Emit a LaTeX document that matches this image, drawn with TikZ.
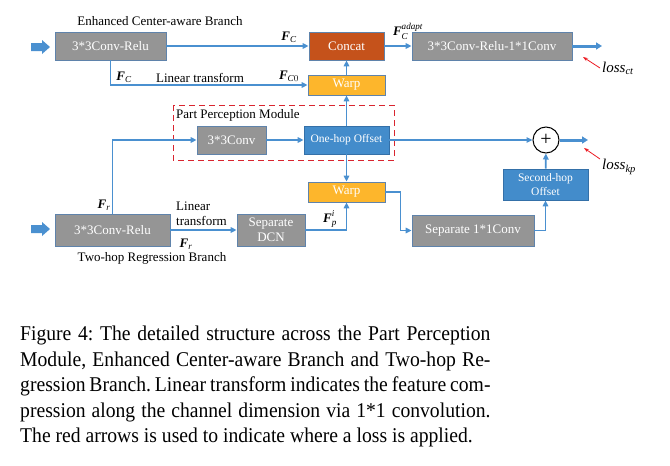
\documentclass[tikz,border=0pt]{standalone}
\usepackage{amsmath}
\usepackage{graphicx}
\usepackage{fontspec}
\setmainfont{Liberation Serif}
\usetikzlibrary{arrows.meta}
\definecolor{graybox}{HTML}{959595}
\definecolor{boxborder}{HTML}{5F83AB}
\definecolor{concatc}{HTML}{C5521B}
\definecolor{warpc}{HTML}{FDB62C}
\definecolor{bluebox}{HTML}{438CCB}
\definecolor{blueborder}{HTML}{3470A8}
\definecolor{arrowblue}{HTML}{4A90D0}
\definecolor{dashred}{HTML}{D9252F}
\definecolor{lossred}{HTML}{EC1C24}
\newcommand\bF{\text{\bfseries\itshape F}}
\newcommand\itx[1]{\text{\itshape #1}}
\begin{document}
\begin{tikzpicture}[x=1pt,y=-1pt,
  box/.style={draw=boxborder, line width=0.8pt, fill=graybox, text=white, inner sep=0pt,
    align=center, font=\fontsize{13}{15}\selectfont},
  bbox/.style={box, fill=bluebox, draw=blueborder, font=\fontsize{11.5}{14}\selectfont},
  wbox/.style={box, fill=warpc, draw=boxborder},
  cbox/.style={box, fill=concatc, draw=boxborder},
  arr/.style={draw=arrowblue, line width=1.7pt, -{Triangle[length=6pt,width=5.5pt]}},
  outarr/.style={draw=arrowblue, line width=3pt, -{Triangle[length=6pt,width=7pt]}},
  redarr/.style={draw=lossred, line width=0.8pt, -{Stealth[length=5pt,width=3.5pt]}},
  lbl/.style={inner sep=0pt, font=\fontsize{13}{15}\selectfont},
  flbl/.style={inner sep=0pt, font=\fontsize{13}{15}\selectfont},
  losslbl/.style={inner sep=0pt, anchor=west, font=\fontsize{15}{17}\selectfont\itshape},
  inarrow/.style={fill=arrowblue}
]
\useasboundingbox (0,0) rectangle (670,466);

% input block arrows
\fill[inarrow] (31,43) -- (42,43) -- (42,40) -- (50,47) -- (42,54) -- (42,51) -- (31,51) -- cycle;
\fill[inarrow] (31,225) -- (42,225) -- (42,222) -- (50,229) -- (42,236) -- (42,233) -- (31,233) -- cycle;

% nodes
\node[box, minimum width=111pt, minimum height=28pt] (c1) at (110.5,46) {3*3Conv-Relu};
\node[cbox, minimum width=75pt, minimum height=28pt] (concat) at (346.5,46) {Concat};
\node[box, minimum width=160pt, minimum height=28pt] (head) at (492,46) {3*3Conv-Relu-1*1Conv};
\node[wbox, minimum width=77pt, minimum height=20pt] (warp1) at (346.5,85) {Warp};
\draw[dashred, line width=1pt, dash pattern=on 6pt off 4pt] (173,105) rectangle (394,160);
\node[lbl, anchor=west] (ppm) at (176,115) {Part Perception Module};
\node[box, minimum width=69pt, minimum height=28pt] (conv3) at (231.5,140) {3*3Conv};
\node[bbox, minimum width=85pt, minimum height=28pt] (onehop) at (346.5,140) {One-hop Offset};
\node[circle, draw=black, line width=1pt, fill=white, minimum size=26pt, inner sep=0pt,
  font=\fontsize{20}{20}\selectfont] (plus) at (546,140) {+};
\node[wbox, minimum width=77pt, minimum height=20pt] (warp2) at (346.5,192) {Warp};
\node[box, minimum width=122pt, minimum height=31pt] (sep1) at (473,230.5) {Separate 1*1Conv};
\node[bbox, minimum width=85pt, minimum height=31pt] (second) at (545.5,184.5) {Second-hop\\Offset};
\node[box, minimum width=115pt, minimum height=32pt] (c2) at (112.5,230) {3*3Conv-Relu};
\node[box, minimum width=68pt, minimum height=32pt] (dcn) at (271,230) {Separate\\DCN};

\coordinate (o1) at (602,46);
\coordinate (o2) at (588,140);
\coordinate (r1s) at (600,68);
\coordinate (r1e) at (583,57);
\coordinate (r2s) at (600,159);
\coordinate (r2e) at (584,148);

% connectors
\draw[arr] (c1) -- (concat);
\draw[arr] (c1.south) |- (warp1.west);
\draw[arr] (warp1) -- (concat);
\draw[arr] (concat) -- (head);
\draw[outarr] (head.east) -- (o1);
\draw[redarr] (r1s) -- (r1e);
\draw[arr] (c2.north) |- (conv3.west);
\draw[arr] (conv3) -- (onehop);
\draw[arr] (onehop) -- (warp1);
\draw[arr] (onehop) -- (warp2);
\draw[arr] (onehop) -- (plus);
\draw[outarr] (plus.east) -- (o2);
\draw[redarr] (r2s) -- (r2e);
\draw[arr] (second) -- (plus);
\draw[arr] (c2.east |- dcn.west) -- (dcn.west);
\draw[arr] (dcn.east) -| (warp2.south);
\draw[arr] (warp2.east) -- ++(15,0) |- (sep1.west);
\draw[arr] (sep1.east) -| (second.south);

% labels
\node[lbl] (t1) at (160,21) {Enhanced Center-aware Branch};
\node[flbl] (fc1) at (289,37) {$\bF_{\itx{C}}$};
\node[flbl] (fc2) at (124,77) {$\bF_{\itx{C}}$};
\node[lbl] (lt1) at (200,78) {Linear transform};
\node[flbl] (fc0) at (289,76) {$\bF_{\itx{C}0}$};
\node[flbl] (fca) at (408,31) {$\bF_{\itx{C}}^{\itx{adapt}}$};
\node[losslbl] (lct) at (602,68) {loss\textsubscript{ct}};
\node[losslbl] (lkp) at (602,167) {loss\textsubscript{kp}};
\node[flbl] (fr1) at (104,205) {$\bF_{\itx{r}}$};
\node[lbl, align=left, anchor=west] (lt2) at (176,214) {Linear\\transform};
\node[flbl] (fr2) at (186,244) {$\bF_{\itx{r}}$};
\node[flbl] (fpi) at (330,219) {$\bF_{\itx{p}}^{\itx{i}}$};
\node[lbl] (t2) at (152,258) {Two-hop Regression Branch};

% caption
\node[anchor=north west, inner sep=0pt] (cap) at (20,326) {\scalebox{0.935}[1]{\parbox{503pt}{\fontsize{21}{25.5}\selectfont\frenchspacing
Figure 4: The detailed structure across the Part Perception\linebreak
Module, Enhanced Center-aware Branch and Two-hop Re-\linebreak
gression Branch. Linear transform indicates the feature com-\linebreak
pression along the channel dimension via 1*1 convolution.\linebreak
The red arrows is used to indicate where a loss is applied.}}};
\end{tikzpicture}
\end{document}
